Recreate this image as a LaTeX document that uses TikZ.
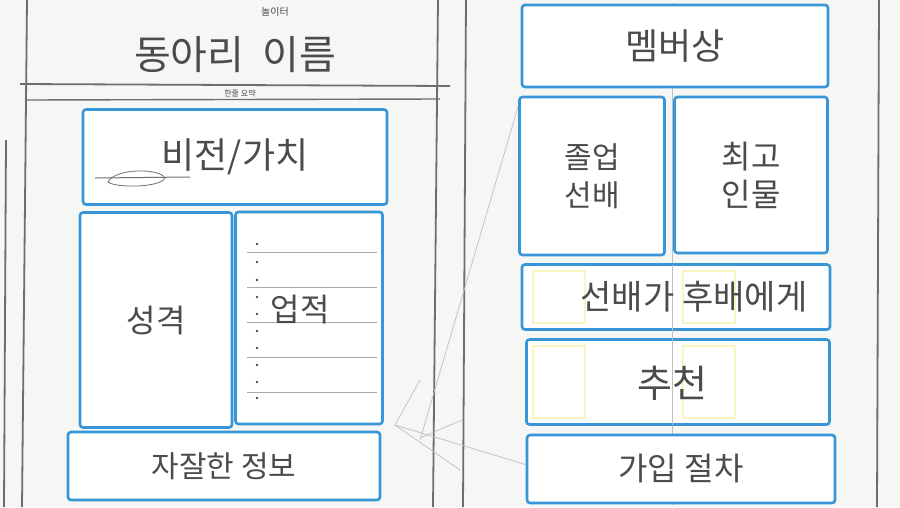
\documentclass[tikz,border=0pt]{standalone}
\usepackage{fontspec}
\setmainfont{Noto Sans CJK KR}
\definecolor{pen}{RGB}{75,75,75}
\definecolor{line}{RGB}{110,110,110}
\definecolor{boxblue}{RGB}{55,150,215}
\definecolor{paleyellow}{RGB}{250,244,190}
\definecolor{paper}{RGB}{246,246,244}

\begin{document}
\begin{tikzpicture}[x=1pt,y=-1pt,
                box/.style={draw=boxblue,line width=2.6pt,rounded corners=3pt,fill=white,
                    inner sep=0pt,text=pen,align=center},
                pencil/.style={draw=line,line width=1.8pt},
                faint/.style={draw=line!45,line width=0.7pt},
                hand/.style={font=\fontsize{#1}{#1}\selectfont}]
                \fill[paper] (0,0) rectangle (900,507);
                \useasboundingbox (0,0) rectangle (900,507);
                \draw[pencil] (27,0) -- (22,507);
                \draw[pencil] (6,140) -- (4,507);
                \draw[pencil] (438,0) -- (433,507);
                \draw[pencil] (466,0) -- (463,507);
                \draw[pencil] (879,0) -- (877,507);
                \draw[faint] (672,3) -- (672,505);
                \draw[faint] (520,100) -- (420,440);
                \draw[faint] (420,380) -- (395,425) -- (527,465);
                \draw[faint] (395,425) -- (460,470);
                \draw[faint] (420,438) -- (462,420);
                \draw[pencil] (20,84) -- (450,86);
                \draw[pencil,line width=1.4pt] (25,100) -- (440,99);
                \node[text=pen,hand=40] (club) at (235,55) {동아리\ \ 이름};
                \node[text=pen,hand=8] (summary) at (240,93) {한줄 요약};
                \node[text=pen,hand=10,inner sep=1pt] (playground) at (275,12) {놀이터};
                \node[box,minimum width=304pt,minimum height=95pt,hand=36] (vision) at (235,157) {비전/가치};
                \draw[line,line width=1pt] (95,178) -- (190,177);
                \draw[line,line width=0.8pt] (108,182) .. controls (115,168) and (160,168) .. (165,178)
                    .. controls (160,188) and (115,188) .. (108,182);
                \node[box,minimum width=152pt,minimum height=215pt,hand=32] (trait) at (156,320) {성격};
                \node[box,minimum width=147pt,minimum height=212pt] (record) at (309,318) {};
                \foreach \y in {252,287,322,357,392}
                    \draw[line!60,line width=0.8pt] (247,\y) -- (377,\y);
                \foreach \y in {244,262,280,297,314,331,348,365,382,398}
                    \fill[pen] (257,\y) circle (1.3pt);
                \node[text=pen,hand=32] (record text) at (300,310) {업적};
                \node[box,minimum width=312pt,minimum height=68pt,hand=30] (misc) at (224,466) {자잘한 정보};
                \node[box,minimum width=306pt,minimum height=82pt,hand=36] (member) at (675,46) {멤버상};
                \node[box,minimum width=145pt,minimum height=158pt,hand=30] (alumni) at (592,176) {졸업\\[8pt]선배};
                \node[box,minimum width=153pt,minimum height=156pt,hand=32] (best) at (751,175) {최고\\[6pt]인물};
                \node[box,minimum width=308pt,minimum height=65pt] (advice) at (676,297) {};
                \node[box,minimum width=303pt,minimum height=85pt] (recommend) at (678,382) {};
                \foreach \x in {533,683} {
                    \draw[paleyellow,line width=2pt] (\x,271) rectangle ++(52,52);
                    \draw[paleyellow,line width=2pt] (\x,346) rectangle ++(52,72);
                }
                \draw[faint] (672,265) -- (672,425);
                \node[text=pen,hand=34] (advice text) at (694,297) {선배가 후배에게};
                \node[text=pen,hand=38] (recommend text) at (672,383) {추천};
                \node[box,minimum width=308pt,minimum height=68pt,hand=32] (join) at (681,469) {가입 절차};
\end{tikzpicture}
\end{document}
